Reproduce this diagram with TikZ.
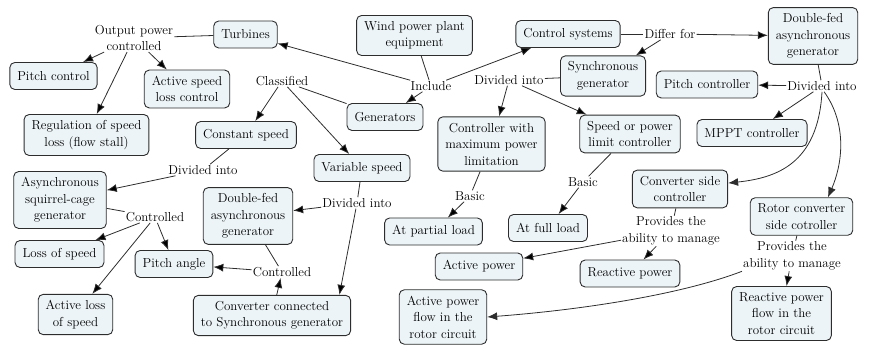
\documentclass[tikz,border=0pt]{standalone}
\usetikzlibrary{arrows.meta,positioning}

\definecolor{boxfill}{RGB}{236,244,247}
\definecolor{boxline}{RGB}{45,45,45}

\begin{document}
\begin{tikzpicture}[x=1pt,y=-1pt,font=\rmfamily\fontsize{13pt}{16.5pt}\selectfont]
        % Setup the styles for the concepts and the linking words
        \tikzset{concept/.style={draw=boxline,
                                 fill=boxfill,
                                 rounded corners=5pt,
                                 line width=0.9pt,
                                 align=center,
                                 inner xsep=7.5pt,
                                 inner ysep=6pt,
                                 minimum height=27pt},
                 phrase/.style={align=center, inner sep=1pt},
                 link/.style={line width=0.8pt,
                              draw=boxline,
                              >={Latex[length=10pt,width=8pt]}}}

        \useasboundingbox (0,0) rectangle (869,347);

        % Draw the concepts
        \node[concept] at (245.5,34.5) (turbines)     {Turbines};
        \node[concept] at (414.5,35.5) (plant)        {Wind power plant\\equipment};
        \node[concept] at (568,34)     (ctrlsys)      {Control systems};
        \node[concept] at (813,36)     (dftop)        {Double-fed\\asynchronous\\generator};
        \node[concept] at (53.5,76)    (pitchctl)     {Pitch control};
        \node[concept] at (187,89)     (activectl)    {Active speed\\loss control};
        \node[concept] at (86.5,135)   (stall)        {Regulation of speed\\loss (flow stall)};
        \node[concept] at (385,117)    (generators)   {Generators};
        \node[concept] at (246,135)    (constant)     {Constant speed};
        \node[concept] at (362,168)    (variable)     {Variable speed};
        \node[concept] at (603,76)     (syncgen)      {Synchronous\\generator};
        \node[concept] at (707,84.5)   (pitchcon)     {Pitch controller};
        \node[concept] at (752,133)    (mppt)         {MPPT controller};
        \node[concept] at (491.5,144)  (maxpower)     {Controller with\\maximum power\\limitation};
        \node[concept] at (630,134)    (limitcon)     {Speed or power\\limit controller};
        \node[concept] at (60,200)     (squirrel)     {Asynchronous\\squirrel-cage\\generator};
        \node[concept] at (59.5,254)   (lossspeed)    {Loss of speed};
        \node[concept] at (75.5,314.5) (activeloss)   {Active loss\\of speed};
        \node[concept] at (174,264)    (pitchangle)   {Pitch angle};
        \node[concept] at (248,216)    (dfmid)        {Double-fed\\asynchronous\\generator};
        \node[concept] at (272,315.5)  (convsync)     {Converter connected\\to Synchronous generator};
        \node[concept] at (433.5,231.5)(partial)      {At partial load};
        \node[concept] at (548,228)    (fullload)     {At full load};
        \node[concept] at (680,189)    (convside)     {Converter side\\controller};
        \node[concept] at (801.5,216.5)(rotorside)    {Rotor converter\\side cotroller};
        \node[concept] at (479,266.5)  (activepow)    {Active power};
        \node[concept] at (630,273.5)  (reactivepow)  {Reactive power};
        \node[concept] at (443,317)    (activeflow)   {Active power\\flow in the\\rotor circuit};
        \node[concept] at (781.5,313.5)(reactiveflow) {Reactive power\\flow in the\\rotor circuit};

        % Draw the linking words
        \node[phrase] at (134,38)  (output)     {Output power\\controlled};
        \node[phrase] at (431,86)  (include)    {Include};
        \node[phrase] at (282,81)  (classified) {Classified};
        \node[phrase] at (670,34)  (differ)     {Differ for};
        \node[phrase] at (509,80)  (divmid)     {Divided into};
        \node[phrase] at (822,86)  (divright)   {Divided into};
        \node[phrase] at (203,170) (divleft)    {Divided into};
        \node[phrase] at (357,203) (divlow)     {Divided into};
        \node[phrase] at (155,217) (ctrlleft)   {Controlled};
        \node[phrase] at (282,272) (ctrlbot)    {Controlled};
        \node[phrase] at (470,196) (basicl)     {Basic};
        \node[phrase] at (583,182) (basicr)     {Basic};
        \node[phrase] at (671,231) (provl)      {Provides the\\ability to manage};
        \node[phrase] at (792,256) (provr)      {Provides the\\ability to manage};

        % Connect the concepts through the linking words
        \draw[link]
            (output)     edge                (turbines)
            (output)     edge[->]            (pitchctl)
            (output)     edge[->]            (activectl)
            (output)     edge[->]            (stall)
            (plant)      edge                (include)
            (include)    edge[->]            (turbines)
            (include)    edge[->]            (generators)
            (include)    edge[->]            (ctrlsys)
            (generators) edge                (classified)
            (classified) edge[->]            (constant)
            (classified) edge[->]            (variable)
            (constant)   edge                (divleft)
            (divleft)    edge[->]            (squirrel)
            (squirrel)   edge                (ctrlleft)
            (ctrlleft)   edge[->]            (lossspeed)
            (ctrlleft)   edge[->]            (pitchangle)
            (ctrlleft)   edge[->]            (activeloss)
            (variable)   edge                (divlow)
            (divlow)     edge[->]            (dfmid)
            (divlow)     edge[->]            (convsync.17)
            (dfmid)      edge                (ctrlbot)
            (ctrlbot)    edge[->]            (pitchangle)
            (convsync)   edge[->]            (ctrlbot)
            (ctrlsys)    edge                (differ)
            (differ)     edge[->]            (dftop)
            (differ)     edge[->]            (syncgen)
            (syncgen)    edge                (divmid)
            (divmid)     edge[->]            (maxpower)
            (divmid)     edge[->]            (limitcon)
            (maxpower)   edge                (basicl)
            (basicl)     edge[->]            (partial)
            (limitcon)   edge                (basicr)
            (basicr)     edge[->]            (fullload)
            (dftop)      edge                (divright)
            (divright)   edge[->]            (pitchcon)
            (divright)   edge[->]            (mppt)
            (convside)   edge                (provl)
            (provl)      edge[->]            (reactivepow)
            (provl)      edge[->]            (activepow)
            (rotorside)  edge                (provr)
            (provr)      edge[->]            (reactiveflow);

        % Curved links on the right
        \draw[link,->] (divright.south) .. controls (818,165) and (775,178) .. (convside.7);
        \draw[link,->] (divright.-70) .. controls (848,125) and (842,165) .. (rotorside.36);
        \draw[link,->] (provr.south west) .. controls (680,295) and (580,310) .. (activeflow.east);
\end{tikzpicture}
\end{document}
